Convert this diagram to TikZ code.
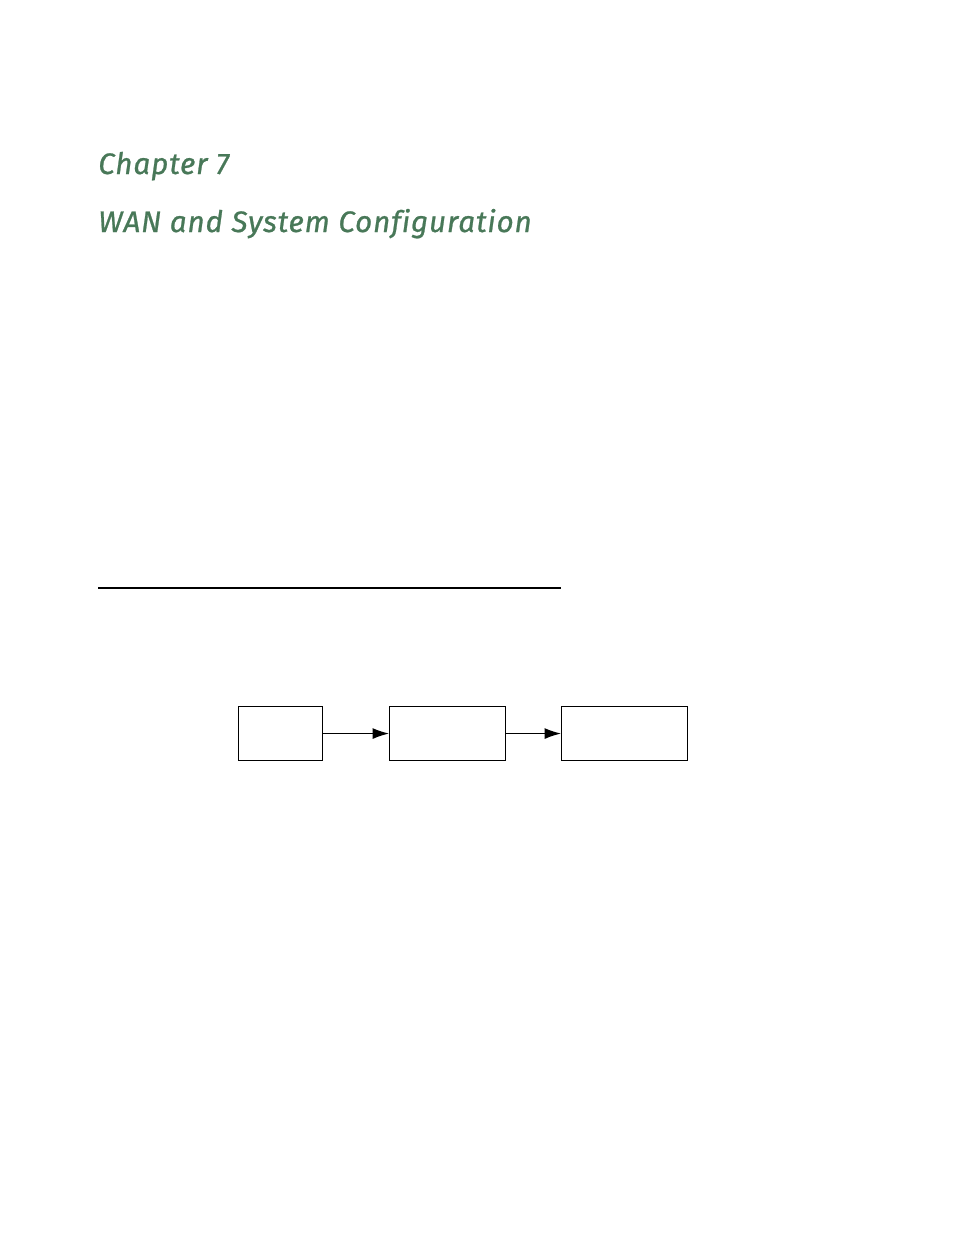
\documentclass[tikz,border=0pt]{standalone}
\usepackage{fontspec}
\setmainfont{Fira Sans}
\newfontfamily\titlefont{Fira Sans}[Ligatures=NoCommon,LetterSpace=3,FakeBold=0.8]
\usetikzlibrary{arrows.meta}
\definecolor{titlegreen}{RGB}{72,120,88}
\begin{document}
\begin{tikzpicture}[x=0.6415pt,y=-0.6415pt,
  title/.style={anchor=base west,inner sep=0pt,text=titlegreen,font=\titlefont\fontsize{19}{24}\selectfont\itshape},
  box/.style={draw,line width=0.7pt,minimum height=54*0.6415pt,inner sep=0pt,anchor=north west},
  conn/.style={line width=0.7pt,-{Latex[length=10.5pt,width=7pt]}}]
\useasboundingbox[fill=white] (0,0) rectangle (954,1235);
\node[title] (chap) at (98,174) {Chapter 7};
\node[title] (wan) at (98,232) {WAN and System Configuration};
\coordinate (rl) at (98,588);
\coordinate (rr) at (561,588);
\draw[line width=1.3pt] (rl) -- (rr);
\node[box,minimum width=84*0.6415pt] (b1) at (238,706) {};
\node[box,minimum width=116*0.6415pt] (b2) at (389,706) {};
\node[box,minimum width=126*0.6415pt] (b3) at (561,706) {};
\draw[conn] (b1.east) -- (b2.west);
\draw[conn] (b2.east) -- (b3.west);
\end{tikzpicture}
\end{document}
